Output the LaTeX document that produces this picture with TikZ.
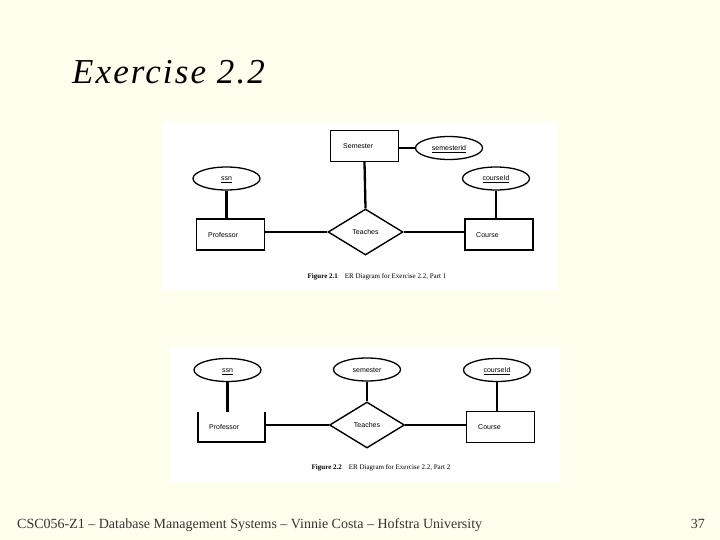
\documentclass[tikz,border=0pt]{standalone}
\usepackage{fontspec}
\setmainfont{Liberation Serif}
\newfontfamily\diagfont{Liberation Sans}
\newfontfamily\titlefont[LetterSpace=6]{Liberation Serif}
\usetikzlibrary{shapes.geometric}
\definecolor{slidebg}{HTML}{FFFFEE}
\definecolor{foottext}{HTML}{333333}
\tikzset{
  entity/.style={draw, line width=1.4pt, minimum width=68pt, minimum height=31pt, inner sep=0pt},
  attr/.style={draw, ellipse, line width=1.3pt, minimum width=67pt, minimum height=23pt, inner sep=0pt, text height=5pt, text depth=0pt, font=\diagfont\fontsize{7}{8}\selectfont},
  rel/.style={draw, diamond, line width=1.4pt, minimum width=75pt, minimum height=46pt, inner sep=0pt, text height=5pt, text depth=0pt, font=\diagfont\fontsize{7}{8}\selectfont},
  lbl/.style={font=\diagfont\fontsize{7}{8}\selectfont, inner sep=0pt, text height=5pt, text depth=0pt, anchor=west},
  thickln/.style={line width=2.3pt},
  thinln/.style={line width=1.4pt},
  figcaption/.style={font=\fontsize{7}{8}\selectfont, inner sep=0pt},
}
\begin{document}
\begin{tikzpicture}[x=1pt,y=-1pt]
\useasboundingbox (0,0) rectangle (720,540);
\fill[slidebg] (0,0) rectangle (720,540);
% title
\node[font=\titlefont\itshape\fontsize{35}{38}\selectfont, anchor=base west, inner sep=0pt] (title) at (72,84) {Exercise 2.2};
% figure 1
\fill[white] (163,122) rectangle (557,290);
\node[entity] (sem1) at (364.5,146) {};
\node[lbl] (sem1t) at (343,146) {Semester};
\node[attr] (semid1) at (449,148) {\underline{semesterid}};
\node[attr] (ssn1) at (226.5,178.5) {\underline{ssn}};
\node[entity] (prof1) at (230.5,234.5) {};
\node[lbl] (prof1t) at (208,234.5) {Professor};
\node[rel] (teach1) at (365.5,232) {Teaches};
\node[entity] (course1) at (499,234.5) {};
\node[lbl] (course1t) at (476,234.5) {Course};
\node[attr] (cid1) at (496,178.5) {\underline{courseId}};
\draw[thinln] (sem1.east |- semid1.west) -- (semid1.west);
\draw[thickln] (sem1.south) -- (teach1.north);
\draw[thickln] (ssn1.south) -- (ssn1.south |- prof1.north);
\draw[thinln] (prof1.east |- teach1.west) -- (teach1.west);
\draw[thinln] (teach1.east) -- (course1.west |- teach1.east);
\draw[thinln] (cid1.south) -- (cid1.south |- course1.north);
\node[figcaption] (cap1) at (377,277) {\textbf{Figure 2.1}\quad ER Diagram for Exercise 2.2, Part 1};
% figure 2
\fill[white] (170,346) rectangle (560,482);
\node[attr] (ssn2) at (227.5,370) {\underline{ssn}};
\node[attr] (sem2) at (367,369.5) {semester};
\node[attr] (cid2) at (497,370) {\underline{courseId}};
\node[minimum width=67pt, minimum height=30pt, inner sep=0pt] (prof2) at (231.5,427) {};
\draw[thickln] (prof2.north west) -- (prof2.south west) -- (prof2.south east) -- (prof2.north east);
\node[lbl] (prof2t) at (209,427) {Professor};
\node[rel] (teach2) at (367,425) {Teaches};
\node[entity] (course2) at (500.5,427) {};
\node[lbl] (course2t) at (478,427) {Course};
\draw[thickln] (ssn2.south) -- (ssn2.south |- prof2.north);
\draw[thickln] (sem2.south) -- (teach2.north);
\draw[thickln] (prof2.east |- teach2.west) -- (teach2.west);
\draw[thickln] (teach2.east) -- (course2.west |- teach2.east);
\draw[thinln] (cid2.south) -- (cid2.south |- course2.north);
\node[figcaption] (cap2) at (381,468) {\textbf{Figure 2.2}\quad ER Diagram for Exercise 2.2, Part 2};
% footer
\node[font=\fontsize{14}{16}\selectfont, text=foottext, anchor=base west, inner sep=0pt] (foot) at (17,528) {CSC056-Z1 -- Database Management Systems -- Vinnie Costa -- Hofstra University};
\node[font=\fontsize{14}{16}\selectfont, text=foottext, anchor=base east, inner sep=0pt] (page) at (705,528) {37};
\end{tikzpicture}
\end{document}
